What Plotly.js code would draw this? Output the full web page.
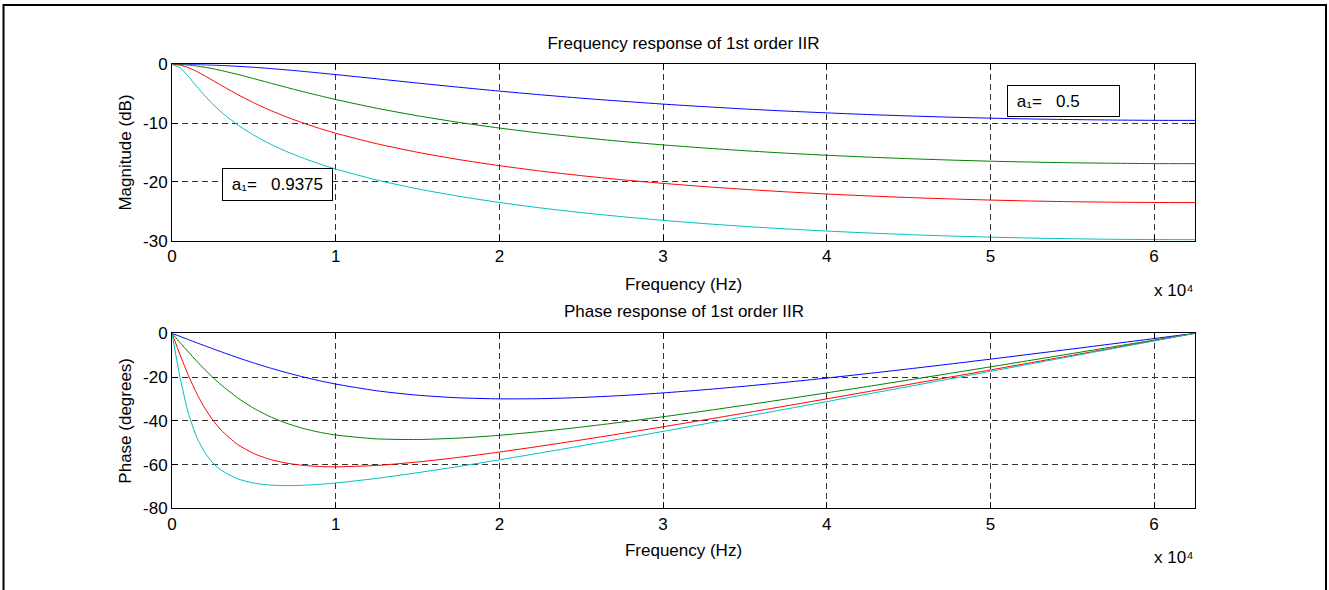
<!DOCTYPE html>
<html>
<head>
<meta charset="utf-8">
<script src="https://cdn.plot.ly/plotly-3.0.1.min.js"></script>
<style>html,body{margin:0;padding:0;background:#fff;}#chart{width:1329px;height:590px;}</style>
</head>
<body>
<div id="chart"></div>
<script>
// Frequency axis (Hz)
const freqHz = [0,500,1000,1500,2000,2500,3000,4000,5000,6000,7000,8000,9000,10000,12500,15000,17500,20000,22500,25000,27500,30000,32500,35000,37500,40000,42500,45000,47500,50000,52500,55000,57500,60000,62500];

// Filter coefficients (one curve each)
const coefA1 = [0.5, 0.75, 0.875, 0.9375];
const seriesColors = ['#0000ff', '#008000', '#ff0000', '#00bfbf'];

// Magnitude (dB)
const magA05    = [0,-0.01,-0.02,-0.05,-0.09,-0.13,-0.19,-0.34,-0.51,-0.72,-0.95,-1.20,-1.47,-1.75,-2.46,-3.19,-3.89,-4.56,-5.18,-5.76,-6.28,-6.77,-7.20,-7.60,-7.95,-8.26,-8.54,-8.78,-8.99,-9.16,-9.30,-9.40,-9.48,-9.53,-9.54];
const magA075   = [0,-0.03,-0.13,-0.29,-0.50,-0.75,-1.05,-1.71,-2.44,-3.19,-3.93,-4.65,-5.33,-5.99,-7.47,-8.75,-9.87,-10.84,-11.70,-12.45,-13.12,-13.71,-14.23,-14.70,-15.11,-15.47,-15.78,-16.05,-16.28,-16.48,-16.63,-16.75,-16.83,-16.89,-16.90];
const magA0875  = [0,-0.15,-0.57,-1.20,-1.95,-2.75,-3.56,-5.13,-6.55,-7.82,-8.96,-9.97,-10.89,-11.72,-13.50,-14.96,-16.19,-17.24,-18.15,-18.94,-19.64,-20.25,-20.79,-21.27,-21.69,-22.06,-22.38,-22.66,-22.89,-23.09,-23.25,-23.37,-23.45,-23.50,-23.52];
const magA09375 = [0,-0.61,-2.06,-3.74,-5.34,-6.80,-8.09,-10.28,-12.06,-13.55,-14.83,-15.94,-16.93,-17.81,-19.67,-21.18,-22.43,-23.50,-24.42,-25.22,-25.92,-26.54,-27.09,-27.57,-27.99,-28.36,-28.68,-28.96,-29.20,-29.39,-29.55,-29.67,-29.76,-29.81,-29.83];

// Phase (degrees)
const phA05    = [0,-1.44,-2.87,-4.30,-5.70,-7.09,-8.45,-11.08,-13.56,-15.87,-17.99,-19.92,-21.66,-23.21,-26.27,-28.30,-29.49,-29.97,-29.89,-29.35,-28.45,-27.25,-25.82,-24.18,-22.39,-20.46,-18.41,-16.29,-14.08,-11.82,-9.51,-7.16,-4.79,-2.40,0];
const phA075   = [0,-4.31,-8.54,-12.63,-16.52,-20.17,-23.55,-29.47,-34.29,-38.13,-41.13,-43.45,-45.21,-46.51,-48.27,-48.56,-47.91,-46.63,-44.91,-42.88,-40.60,-38.15,-35.56,-32.86,-30.08,-27.22,-24.31,-21.35,-18.36,-15.34,-12.30,-9.24,-6.17,-3.09,0];
const phA0875  = [0,-9.96,-19.22,-27.34,-34.16,-39.74,-44.25,-50.78,-54.98,-57.67,-59.36,-60.37,-60.88,-61.05,-60.41,-58.84,-56.74,-54.29,-51.60,-48.76,-45.79,-42.74,-39.62,-36.44,-33.23,-29.98,-26.70,-23.40,-20.09,-16.76,-13.42,-10.07,-6.72,-3.36,0];
const phA09375 = [0,-20.57,-36.49,-47.30,-54.45,-59.26,-62.56,-66.51,-68.48,-69.37,-69.64,-69.49,-69.06,-68.44,-66.33,-63.74,-60.88,-57.84,-54.69,-51.46,-48.17,-44.83,-41.47,-38.07,-34.66,-31.23,-27.78,-24.33,-20.87,-17.40,-13.93,-10.45,-6.97,-3.48,0];

// Tick labels
const xTickVals = [0,10000,20000,30000,40000,50000,60000];
const xTickText = ['0','1','2','3','4','5','6'];
const magTickVals = [-30,-20,-10,0];
const magTickText = ['-30','-20','-10','0'];
const phTickVals = [-80,-60,-40,-20,0];
const phTickText = ['-80','-60','-40','-20','0'];

// Texts
const magTitle = 'Frequency response of 1st order IIR';
const phTitle = 'Phase response of 1st order IIR';
const xLabel = 'Frequency (Hz)';
const magYLabel = 'Magnitude (dB)';
const phYLabel = 'Phase (degrees)';
const xExponent = 'x 10\u2074';
const coefLabel = 'a\u2081=';

const W = 1329, H = 590;
const px = v => v / W;
const py = v => 1 - v / H;
const FONT = 'Liberation Sans, Arial, Helvetica, sans-serif';
const FS = 17;

const magSeries = [magA05, magA075, magA0875, magA09375];
const phSeries = [phA05, phA075, phA0875, phA09375];

const traces = [];
magSeries.forEach((ys, i) => traces.push({
  x: freqHz, y: ys, xaxis: 'x', yaxis: 'y', type: 'scatter', mode: 'lines',
  name: 'a1 = ' + coefA1[i], line: {color: seriesColors[i], width: 1, shape: 'spline', smoothing: 0.6}
}));
phSeries.forEach((ys, i) => traces.push({
  x: freqHz, y: ys, xaxis: 'x2', yaxis: 'y2', type: 'scatter', mode: 'lines',
  name: 'a1 = ' + coefA1[i], line: {color: seriesColors[i], width: 1, shape: 'spline', smoothing: 0.6}
}));

const axisCommon = {
  showline: true, linecolor: '#000', linewidth: 1, mirror: 'ticks',
  ticks: 'inside', ticklen: 6, tickcolor: '#000', tickwidth: 1,
  showgrid: true, gridcolor: '#333', gridwidth: 1, griddash: '6px,4px',
  zeroline: false, tickfont: {family: FONT, size: FS, color: '#000'},
  automargin: false, fixedrange: true
};
const titleFont = {family: FONT, size: FS, color: '#000'};

const xDom = [px(172), px(1195)];

const layout = {
  width: W, height: H,
  margin: {l: 0, r: 0, t: 0, b: 0, pad: 0},
  paper_bgcolor: '#fff', plot_bgcolor: '#fff',
  showlegend: false,
  font: {family: FONT, size: FS, color: '#000'},
  title: {text: magTitle, font: titleFont, xref: 'paper', x: px(683.5), xanchor: 'center', yref: 'container', y: py(43), yanchor: 'middle', pad: {t: 0, b: 0, l: 0, r: 0}},
  xaxis: Object.assign({}, axisCommon, {domain: xDom, anchor: 'y', range: [0, 62500], tickmode: 'array', tickvals: xTickVals, ticktext: xTickText,
    title: {text: xLabel, font: titleFont, standoff: 13}}),
  yaxis: Object.assign({}, axisCommon, {domain: [py(240.7), py(64.3)], anchor: 'x', range: [-30, 0], tickmode: 'array', tickvals: magTickVals, ticktext: magTickText,
    title: {text: magYLabel, font: titleFont, standoff: 7}}),
  xaxis2: Object.assign({}, axisCommon, {domain: xDom, anchor: 'y2', range: [0, 62500], tickmode: 'array', tickvals: xTickVals, ticktext: xTickText,
    title: {text: xLabel, font: titleFont, standoff: 11}}),
  yaxis2: Object.assign({}, axisCommon, {domain: [py(508.3), py(333.3)], anchor: 'x2', range: [-80, 0], tickmode: 'array', tickvals: phTickVals, ticktext: phTickText,
    title: {text: phYLabel, font: titleFont, standoff: 7}}),
  shapes: [
    {type: 'rect', xref: 'paper', yref: 'paper', x0: px(3.5), x1: px(1326), y0: -0.1, y1: py(5), line: {color: '#000', width: 2}, fillcolor: 'rgba(0,0,0,0)', layer: 'below'}
  ],
  annotations: [
    {text: xExponent, xref: 'paper', yref: 'paper', x: px(1195), y: py(290), xanchor: 'right', yanchor: 'middle', showarrow: false, font: titleFont},
    {text: phTitle, xref: 'paper', yref: 'paper', x: px(683.5), y: py(311), xanchor: 'center', yanchor: 'middle', showarrow: false, font: titleFont},
    {text: xExponent, xref: 'paper', yref: 'paper', x: px(1195), y: py(557), xanchor: 'right', yanchor: 'middle', showarrow: false, font: titleFont},
    {text: '\u00a0' + coefLabel + '\u00a0\u00a0\u00a0' + coefA1[3], xref: 'paper', yref: 'paper', x: px(222), y: py(168), xanchor: 'left', yanchor: 'top', showarrow: false,
     width: 101, height: 23, align: 'left', valign: 'middle', borderpad: 4, bordercolor: '#000', borderwidth: 1, bgcolor: '#fff', font: titleFont},
    {text: '\u00a0' + coefLabel + '\u00a0\u00a0\u00a0' + coefA1[0], xref: 'paper', yref: 'paper', x: px(1007), y: py(85), xanchor: 'left', yanchor: 'top', showarrow: false,
     width: 103, height: 22, align: 'left', valign: 'middle', borderpad: 4, bordercolor: '#000', borderwidth: 1, bgcolor: '#fff', font: titleFont}
  ]
};

Plotly.newPlot('chart', traces, layout, {displayModeBar: false, staticPlot: true});
</script>
</body>
</html>
